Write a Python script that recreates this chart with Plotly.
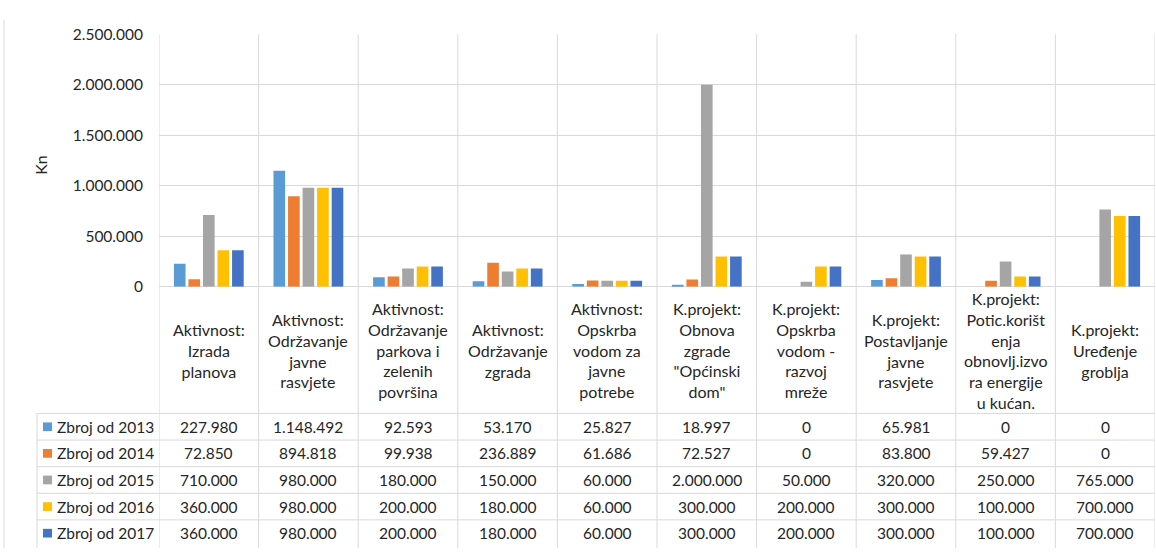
import plotly.graph_objects as go

# Budget lines (categories) and yearly sums in Kn
categories = [
    "Aktivnost:\nIzrada\nplanova",
    "Aktivnost:\nOdržavanje\njavne\nrasvjete",
    "Aktivnost:\nOdržavanje\nparkova i\nzelenih\npovršina",
    "Aktivnost:\nOdržavanje\nzgrada",
    "Aktivnost:\nOpskrba\nvodom za\njavne\npotrebe",
    "K.projekt:\nObnova\nzgrade\n\"Općinski\ndom\"",
    "K.projekt:\nOpskrba\nvodom -\nrazvoj\nmreže",
    "K.projekt:\nPostavljanje\njavne\nrasvjete",
    "K.projekt:\nPotic.korišt\nenja\nobnovlj.izvo\nra energije\nu kućan.",
    "K.projekt:\nUređenje\ngroblja",
]

series_names = ["Zbroj od 2013", "Zbroj od 2014", "Zbroj od 2015", "Zbroj od 2016", "Zbroj od 2017"]

zbroj_2013 = [227980, 1148492, 92593, 53170, 25827, 18997, 0, 65981, 0, 0]
zbroj_2014 = [72850, 894818, 99938, 236889, 61686, 72527, 0, 83800, 59427, 0]
zbroj_2015 = [710000, 980000, 180000, 150000, 60000, 2000000, 50000, 320000, 250000, 765000]
zbroj_2016 = [360000, 980000, 200000, 180000, 60000, 300000, 200000, 300000, 100000, 700000]
zbroj_2017 = [360000, 980000, 200000, 180000, 60000, 300000, 200000, 300000, 100000, 700000]

y_ticks = [0, 500000, 1000000, 1500000, 2000000, 2500000]
y_title = "Kn"

series_values = [zbroj_2013, zbroj_2014, zbroj_2015, zbroj_2016, zbroj_2017]
colors = ["#5B9BD5", "#ED7D31", "#A5A5A5", "#FFC000", "#4472C4"]

W, H = 1156, 554
FONT = "Lato"
TEXT = "#262626"
GRID = "#D9D9D9"


def px(x):
    return x / W


def py(y):
    return 1 - y / H


def fmt(v):
    return f"{v:,}".replace(",", ".")


x_idx = list(range(len(categories)))

fig = go.Figure()
for name, vals, col in zip(series_names, series_values, colors):
    fig.add_trace(go.Bar(x=x_idx, y=vals, name=name, marker_color=col,
                         marker_line_width=0, showlegend=False))

plot_top, plot_bottom = 25, 286
header_bottom = 417
row_h = 27.5
table_left = 37
plot_left, plot_right = 159, 1155

shapes = []
# column separators through plot and table
for i in range(len(categories) + 1):
    shapes.append(dict(type="line", xref="x", yref="paper", x0=i - 0.5, x1=i - 0.5,
                       y0=py(H + 2), y1=py(plot_top), line=dict(color=GRID, width=1)))
# table row lines
for r in range(len(series_names)):
    yy = header_bottom + r * row_h
    shapes.append(dict(type="line", xref="paper", yref="paper", x0=px(table_left), x1=px(plot_right),
                       y0=py(yy), y1=py(yy), line=dict(color=GRID, width=1)))
# legend column left border
shapes.append(dict(type="line", xref="paper", yref="paper", x0=px(table_left), x1=px(table_left),
                   y0=py(H + 2), y1=py(header_bottom), line=dict(color=GRID, width=1)))
# chart area border on the left
shapes.append(dict(type="line", xref="paper", yref="paper", x0=px(4), x1=px(4),
                   y0=py(H + 2), y1=py(10), line=dict(color=GRID, width=1)))
# legend keys
for r, col in enumerate(colors):
    cy = header_bottom + r * row_h + row_h / 2
    shapes.append(dict(type="rect", xref="paper", yref="paper", x0=px(43), x1=px(52),
                       y0=py(cy + 4.5), y1=py(cy - 4.5), fillcolor=col, line=dict(width=0)))

annotations = []
for i, cat in enumerate(categories):
    annotations.append(dict(xref="x", yref="paper", x=i, y=py((plot_bottom + header_bottom) / 2),
                            text=cat.replace("\n", "<br>"), showarrow=False, align="center",
                            xanchor="center", yanchor="middle",
                            font=dict(family=FONT, size=16, color=TEXT)))
for r, (name, vals) in enumerate(zip(series_names, series_values)):
    cy = header_bottom + r * row_h + row_h / 2
    annotations.append(dict(xref="paper", yref="paper", x=px(55), y=py(cy), text=name,
                            showarrow=False, xanchor="left", yanchor="middle",
                            font=dict(family=FONT, size=15.5, color=TEXT)))
    for i, v in enumerate(vals):
        annotations.append(dict(xref="x", yref="paper", x=i, y=py(cy), text=fmt(v),
                                showarrow=False, xanchor="center", yanchor="middle",
                                font=dict(family=FONT, size=15.5, color=TEXT)))
annotations.append(dict(xref="paper", yref="paper", x=px(41), y=py(160), text=y_title,
                        textangle=-90, showarrow=False, xanchor="center", yanchor="middle",
                        font=dict(family=FONT, size=16, color=TEXT)))

fig.update_layout(
    width=W, height=H,
    margin=dict(l=0, r=0, t=0, b=0),
    paper_bgcolor="white", plot_bgcolor="white",
    separators=",.",
    barmode="group", bargap=0.27, bargroupgap=0.2,
    xaxis=dict(domain=[px(plot_left), px(plot_right)], range=[-0.5, len(categories) - 0.5],
               showticklabels=False, showgrid=False, zeroline=False, fixedrange=True),
    yaxis=dict(domain=[py(plot_bottom), py(plot_top)], range=[0, 2500000],
               tickvals=y_ticks, tickformat=",d", showgrid=True, gridcolor=GRID,
               zeroline=True, zerolinecolor=GRID, zerolinewidth=1, ticks="",
               ticklabelstandoff=15,
               tickfont=dict(family=FONT, size=15.5, color=TEXT)),
    shapes=shapes,
    annotations=annotations,
)

fig.write_html("out.html")
